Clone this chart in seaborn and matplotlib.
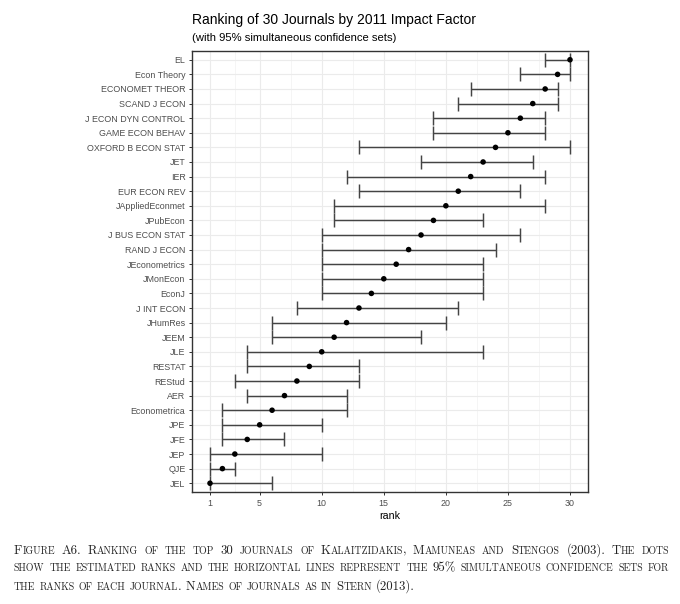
import numpy as np
import pandas as pd
import matplotlib
matplotlib.use("Agg")
import matplotlib.pyplot as plt
import seaborn as sns
from matplotlib.offsetbox import TextArea, HPacker, AnnotationBbox

journals = ["EL", "Econ Theory", "ECONOMET THEOR", "SCAND J ECON", "J ECON DYN CONTROL",
            "GAME ECON BEHAV", "OXFORD B ECON STAT", "JET", "IER", "EUR ECON REV",
            "JAppliedEconmet", "JPubEcon", "J BUS ECON STAT", "RAND J ECON", "JEconometrics",
            "JMonEcon", "EconJ", "J INT ECON", "JHumRes", "JEEM", "JLE", "RESTAT", "REStud",
            "AER", "Econometrica", "JPE", "JFE", "JEP", "QJE", "JEL"]
est_rank = [30, 29, 28, 27, 26, 25, 24, 23, 22, 21, 20, 19, 18, 17, 16,
            15, 14, 13, 12, 11, 10, 9, 8, 7, 6, 5, 4, 3, 2, 1]
lower = [28, 26, 22, 21, 19, 19, 13, 18, 12, 13, 11, 11, 10, 10, 10,
         10, 10, 8, 6, 6, 4, 4, 3, 4, 2, 2, 2, 1, 1, 1]
upper = [30, 30, 29, 29, 28, 28, 30, 27, 28, 26, 28, 23, 26, 24, 23,
         23, 23, 21, 20, 18, 23, 13, 13, 12, 12, 10, 7, 10, 3, 6]
x_ticks = [1, 5, 10, 15, 20, 25, 30]
x_minor = [3, 7.5, 12.5, 17.5, 22.5, 27.5]

title = "Ranking of 30 Journals by 2011 Impact Factor"
subtitle = "(with 95% simultaneous confidence sets)"
caption_lines = [
    "Figure A6. Ranking of the top 30 journals of Kalaitzidakis, Mamuneas and Stengos (2003).  The dots",
    "show the estimated ranks and the horizontal lines represent the 95% simultaneous confidence sets for",
    "the ranks of each journal. Names of journals as in Stern (2013).",
]

n = len(journals)
df = pd.DataFrame({"journal": journals, "rank": est_rank, "lo": lower, "hi": upper})
df["ypos"] = np.arange(n)[::-1] + 1

sns.set_theme(style="white")
plt.rcParams["font.family"] = ["Liberation Sans", "DejaVu Sans"]

fig = plt.figure(figsize=(6.8, 6.04), dpi=100)
ax = fig.add_axes([192 / 680, 1 - 492 / 604, (588 - 192) / 680, (492 - 51) / 604])

ax.errorbar(df["rank"], df["ypos"],
            xerr=[df["rank"] - df["lo"], df["hi"] - df["rank"]],
            fmt="none", ecolor="#444444", elinewidth=1.05, capsize=4.7, capthick=1.05, zorder=2)
sns.scatterplot(data=df, x="rank", y="ypos", color="black", s=16, edgecolor="none",
                ax=ax, zorder=3, legend=False)

ax.set_xlim(-0.45, 31.45)
ax.set_ylim(0.4, n + 0.6)
ax.set_xticks(x_ticks)
ax.set_xticklabels([str(t) for t in x_ticks])
ax.set_xticks(x_minor, minor=True)
ax.set_yticks(df["ypos"])
ax.set_yticklabels(df["journal"])
ax.grid(which="major", color="#EBEBEB", linewidth=0.8)
ax.grid(which="minor", axis="x", color="#F2F2F2", linewidth=0.5)
ax.set_axisbelow(True)
for s in ax.spines.values():
    s.set_color("#333333")
    s.set_linewidth(1.0)
ax.tick_params(which="major", axis="both", length=2.5, width=0.7, color="#333333",
               labelcolor="#4D4D4D", labelsize=6.4, pad=2.2, bottom=True, left=True)
ax.tick_params(which="minor", length=0)
ax.set_xlabel("rank", fontsize=7.7, color="black", labelpad=2.5)
ax.set_ylabel("")

fig.text(192 / 680, 1 - 20 / 604, title, fontsize=10, va="center", ha="left", color="black")
fig.text(192 / 680, 1 - 38 / 604, subtitle, fontsize=8.1, va="center", ha="left", color="black")

# caption in (simulated) small caps
BIG, SMALL = 9.2, 7.1
cap_font = "cmr10"


def word_box(word):
    runs = []
    cur, cur_small = "", None
    for ch in word:
        is_small = ch.islower()
        c = ch.upper() if is_small else ch
        if cur_small is None or is_small == cur_small:
            cur += c
            cur_small = is_small
        else:
            runs.append((cur, SMALL if cur_small else BIG))
            cur, cur_small = c, is_small
    runs.append((cur, SMALL if cur_small else BIG))
    kids = [TextArea(t, textprops=dict(fontsize=sz, family=cap_font, color="#222222"))
            for t, sz in runs]
    return HPacker(children=kids, sep=0, pad=0, align="baseline")


x0, x1 = 14, 669
ys = [550, 568, 586]
lines = []
for i, txt in enumerate(caption_lines):
    words = txt.split()
    box = HPacker(children=[word_box(w) for w in words], sep=3.0, pad=0, align="baseline")
    ab = AnnotationBbox(box, (x0, 604 - ys[i]), xycoords="figure pixels",
                        box_alignment=(0, 0.5), frameon=False, pad=0)
    fig.add_artist(ab)
    lines.append((box, len(words), i < 2))

fig.canvas.draw()
renderer = fig.canvas.get_renderer()
for box, nw, justify in lines:
    if justify and nw > 1:
        w = box.get_bbox(renderer).width
        sep_px = box.sep * fig.dpi / 72
        sep_px += (x1 - x0 - w) / (nw - 1)
        box.sep = sep_px * 72 / fig.dpi

fig.savefig("out.png", dpi=100)
